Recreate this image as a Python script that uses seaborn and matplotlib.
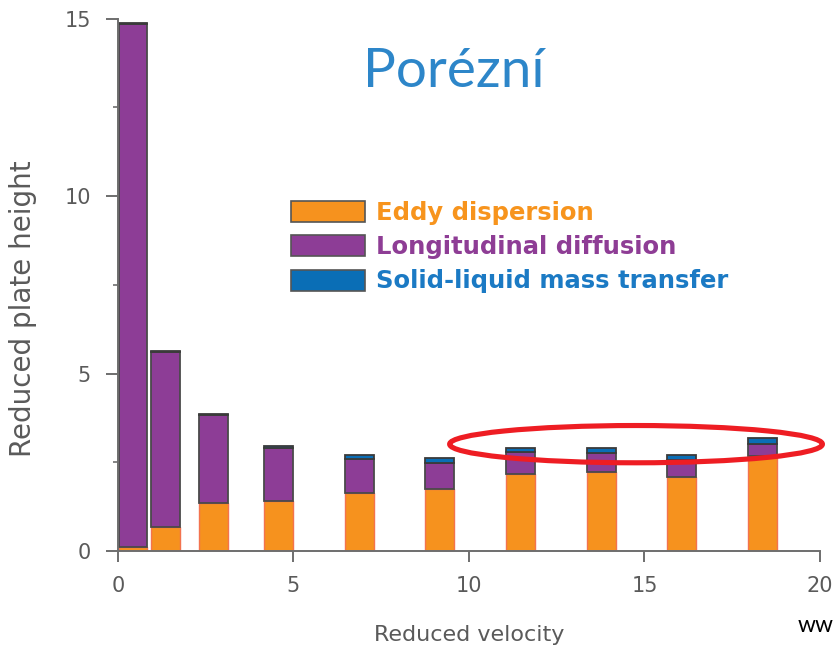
import numpy as np
import matplotlib
matplotlib.use("Agg")
import matplotlib.pyplot as plt
from matplotlib.patches import Ellipse, Patch
import seaborn as sns

# Reduced velocity of each measurement and the three contributions to plate height
velocity = [0.43, 1.36, 2.72, 4.58, 6.88, 9.17, 11.47, 13.77, 16.06, 18.36]
eddy = [0.10, 0.68, 1.36, 1.42, 1.64, 1.74, 2.17, 2.23, 2.09, 2.68]
longitudinal = [14.75, 4.94, 2.46, 1.49, 0.96, 0.74, 0.61, 0.52, 0.47, 0.33]
mass_transfer = [0.02, 0.02, 0.05, 0.05, 0.10, 0.13, 0.11, 0.14, 0.14, 0.16]
components = ["Eddy dispersion", "Longitudinal diffusion", "Solid-liquid mass transfer"]
x_ticks = [0, 5, 10, 15, 20]
y_ticks = [0, 5, 10, 15]
y_minor_ticks = [2.5, 7.5, 12.5]

fill_colors = ["#F6921E", "#8D3D96", "#0A6EB6"]
edge_colors = ["#F3734F", "#4A4A4A", "#3A3A3A"]
edge_widths = [1.0, 1.3, 1.3]
text_colors = ["#F7941D", "#8E3D95", "#1B7AC4"]
axis_gray = "#6E6E6E"
label_gray = "#5A5A5A"

sns.set_style("ticks")
plt.rcParams["font.family"] = ["DejaVu Sans"]

fig = plt.figure(figsize=(8.36, 6.5), dpi=100)
ax = fig.add_axes([0.1411, 0.1523, 0.8397, 0.8192])

# stacked bars: each component sits on top of the previous ones
bar_width = 0.88  # relative to the narrowest spacing between velocities
bottom = np.zeros(len(velocity))
for values, fc, ec, lw in zip([eddy, longitudinal, mass_transfer],
                              fill_colors, edge_colors, edge_widths):
    sns.barplot(x=velocity, y=values, native_scale=True, width=bar_width,
                color=fc, saturation=1, errorbar=None, edgecolor=ec,
                linewidth=lw, bottom=bottom.copy(), ax=ax)
    bottom += np.asarray(values)

ax.set_xlim(0, 20)
ax.set_ylim(0, 15)
ax.set_xticks(x_ticks)
ax.set_yticks(y_ticks)
ax.set_yticks(y_minor_ticks, minor=True)
ax.set_xticklabels([str(v) for v in x_ticks])
ax.set_yticklabels([str(v) for v in y_ticks])

sns.despine(ax=ax)
for side in ("left", "bottom"):
    ax.spines[side].set_color(axis_gray)
    ax.spines[side].set_linewidth(1.4)

ax.tick_params(axis="both", which="major", direction="out", color=axis_gray,
               width=1.4, labelcolor=label_gray, labelsize=15)
ax.tick_params(axis="x", which="major", length=8, pad=10)
ax.tick_params(axis="y", which="major", length=8.6, pad=11)
ax.tick_params(axis="y", which="minor", length=3.6, width=1.2, color=axis_gray)

ax.set_xlabel("Reduced velocity", fontsize=16, color=label_gray, va="center")
ax.xaxis.set_label_coords(0.5, -0.158)
ax.set_ylabel("Reduced plate height", fontsize=20, color=label_gray,
              va="center", ha="center")
ax.yaxis.set_label_coords(-0.135, 0.456)

handles = [Patch(facecolor=c, edgecolor="#555555", linewidth=1.2) for c in fill_colors]
leg = ax.legend(handles, components, loc="upper left",
                bbox_to_anchor=(291 / 836, 1 - 201 / 650),
                bbox_transform=fig.transFigure, frameon=False,
                prop=dict(family="DejaVu Sans", weight="bold", size=17.5),
                handlelength=3.06, handleheight=0.95, handletextpad=0.44,
                labelspacing=0.42, borderpad=0, borderaxespad=0)
for txt, c in zip(leg.get_texts(), text_colors):
    txt.set_color(c)

# highlight around the high-velocity bars
ax.add_patch(Ellipse((14.76, 3.01), 10.62, 1.05, fill=False,
                     edgecolor="#EE1D23", linewidth=3.7, clip_on=False, zorder=6))

fig.text(454 / 836, 1 - 87 / 650, "Porézní", family="Lato", fontsize=39.5,
         color="#2D86C9", ha="center", va="baseline")
fig.text(798 / 836, 1 - 632 / 650, "ww", family="Lato", fontsize=16.5,
         color="black", ha="left", va="baseline")

fig.savefig("out.png", dpi=100)
